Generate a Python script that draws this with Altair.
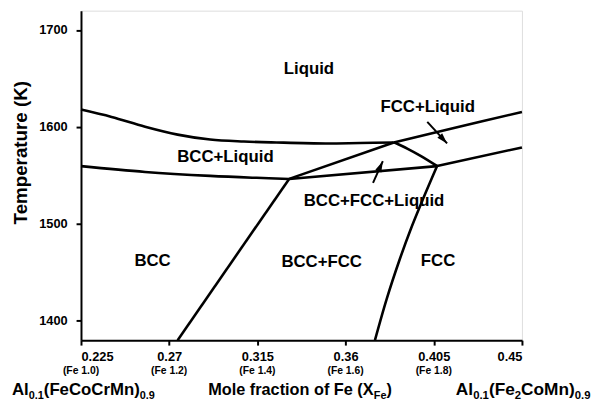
import math
import altair as alt
import pandas as pd

# ---------------- data ----------------
# phase boundary curves: (x = mole fraction Fe, T in K)
liq_bcc_x = [0.225, 0.2406, 0.2577, 0.2743, 0.2909, 0.3081, 0.3247, 0.3498, 0.3674, 0.3846]
liq_bcc_T = [1618, 1610.4, 1600.2, 1592.1, 1587.0, 1585.0, 1584.0, 1583.0, 1583.5, 1584.0]
liq_fcc_x = [0.3846, 0.4153, 0.45]
liq_fcc_T = [1584.0, 1599.0, 1615.5]
sol_bcc_x = [0.225, 0.2577, 0.2909, 0.3146, 0.3312]
sol_bcc_T = [1559.6, 1553.6, 1549.5, 1547.5, 1546.4]
peri_x = [0.3312, 0.4067]
peri_T = [1546.4, 1559.6]
sol_fcc_x = [0.4067, 0.45]
sol_fcc_T = [1559.6, 1578.9]
tri_left_x = [0.3312, 0.3846]
tri_left_T = [1546.4, 1584.0]
tri_right_x = [0.3847, 0.3917, 0.3985, 0.4068]
tri_right_T = [1584.2, 1577.5, 1570.0, 1559.6]
bcc_solvus_x = [0.2743, 0.3312]
bcc_solvus_T = [1380, 1546.4]
fcc_solvus_x = [0.375, 0.3810, 0.3876, 0.3931, 0.3992, 0.4067]
fcc_solvus_T = [1380, 1422.6, 1463.2, 1493.7, 1524.1, 1559.6]

# region labels
region_text = ["Liquid", "BCC+Liquid", "BCC", "BCC+FCC", "FCC", "FCC+Liquid", "BCC+FCC+Liquid"]
region_x = [0.3413, 0.2987, 0.2615, 0.3478, 0.4072, 0.4019, 0.3745]
region_T = [1660.1, 1568.8, 1461.2, 1460.5, 1461.2, 1620.5, 1523.4]

# arrows
arrow_x1 = [0.4017, 0.3740]
arrow_T1 = [1605.3, 1542.4]
arrow_x2 = [0.4118, 0.3790]
arrow_T2 = [1583.0, 1564.7]

# axis ticks
x_ticks = [0.225, 0.27, 0.315, 0.36, 0.405, 0.45]
fe_ticks = [0.225, 0.27, 0.315, 0.36, 0.405]
fe_labels = ["(Fe 1.0)", "(Fe 1.2)", "(Fe 1.4)", "(Fe 1.6)", "(Fe 1.8)"]
y_ticks = [1400, 1500, 1600, 1700]

# ---------------- layout ----------------
W, H = 447, 334
XDOM = [0.225, 0.45]
YDOM = [1380, 1720]
FONT = "Liberation Sans"

xs = alt.Scale(domain=XDOM, nice=False, zero=False)
ys = alt.Scale(domain=YDOM, nice=False, zero=False)

segments = [
    ("liq_bcc", liq_bcc_x, liq_bcc_T), ("liq_fcc", liq_fcc_x, liq_fcc_T),
    ("sol_bcc", sol_bcc_x, sol_bcc_T), ("peri", peri_x, peri_T),
    ("sol_fcc", sol_fcc_x, sol_fcc_T), ("tri_left", tri_left_x, tri_left_T),
    ("tri_right", tri_right_x, tri_right_T), ("bcc_solvus", bcc_solvus_x, bcc_solvus_T),
    ("fcc_solvus", fcc_solvus_x, fcc_solvus_T),
]
rows = []
for name, xx, tt in segments:
    for i, (a, b) in enumerate(zip(xx, tt)):
        rows.append({"seg": name, "i": i, "x": a, "T": b})
curve_df = pd.DataFrame(rows)

lines = alt.Chart(curve_df).mark_line(
    color="black", strokeWidth=2.6, interpolate="catmull-rom"
).encode(
    x=alt.X("x:Q", scale=xs,
            axis=alt.Axis(values=x_ticks, format=".3~f", title=None, grid=False,
                          labelFont=FONT, labelFontWeight="bold", labelFontSize=13,
                          labelColor="black", tickColor="black", tickSize=5, tickWidth=2,
                          domainColor="black", domainWidth=2, labelPadding=6)),
    y=alt.Y("T:Q", scale=ys,
            axis=alt.Axis(values=y_ticks, format="d", title=None, grid=False,
                          labelFont=FONT, labelFontWeight="bold", labelFontSize=13,
                          labelColor="black", tickColor="black", tickSize=5, tickWidth=2,
                          domainColor="black", domainWidth=2, labelPadding=9)),
    detail="seg:N",
    order="i:Q",
)

region_df = pd.DataFrame({"text": region_text, "x": region_x, "T": region_T})
regions = alt.Chart(region_df).mark_text(
    font=FONT, fontWeight="bold", fontSize=17, color="black", align="center", baseline="middle"
).encode(x=alt.X("x:Q", scale=xs), y=alt.Y("T:Q", scale=ys), text="text:N")

# arrows
px_per_x = W / (XDOM[1] - XDOM[0])
px_per_T = H / (YDOM[1] - YDOM[0])
angles = []
for a1, t1, a2, t2 in zip(arrow_x1, arrow_T1, arrow_x2, arrow_T2):
    dx = (a2 - a1) * px_per_x
    dy = -(t2 - t1) * px_per_T
    angles.append(math.degrees(math.atan2(dx, -dy)) % 360)
arrow_df = pd.DataFrame({"x1": arrow_x1, "T1": arrow_T1, "x2": arrow_x2, "T2": arrow_T2, "ang": angles})
shafts = alt.Chart(arrow_df).mark_rule(color="black", strokeWidth=2).encode(
    x=alt.X("x1:Q", scale=xs), y=alt.Y("T1:Q", scale=ys), x2="x2:Q", y2="T2:Q")
heads = alt.Chart(arrow_df).mark_point(
    shape="M0,0L-0.6,2L0.6,2Z", filled=True, color="black", opacity=1, size=121, strokeWidth=0
).encode(x=alt.X("x2:Q", scale=xs), y=alt.Y("T2:Q", scale=ys),
         angle=alt.Angle("ang:Q", scale=None))

# (Fe n) tick sub-labels
fe_df = pd.DataFrame({"x": fe_ticks, "label": fe_labels})
fe_text = alt.Chart(fe_df).mark_text(
    font=FONT, fontWeight="bold", fontSize=10.5, color="black", align="center", baseline="alphabetic"
).encode(x=alt.X("x:Q", scale=xs), y=alt.value(368), text="label:N")

# rich-text helpers (main text + subscripts)
CW = {'A': 722, 'l': 278, '0': 556, '1': 556, '2': 556, '9': 556, '.': 278, '(': 333, ')': 333,
      'F': 611, 'e': 556, 'C': 722, 'o': 611, 'r': 389, 'M': 833, 'n': 611, ' ': 278, 'X': 667,
      'f': 333, 'a': 556, 'c': 556, 't': 333, 'i': 278}


def tw(s, size):
    return sum(CW.get(ch, 556) for ch in s) * size / 1000.0


def rich(pieces, x0, y0):
    out = []
    x = x0
    for text, size, dy in pieces:
        out.append({"text": text, "px": x, "py": y0 + dy, "size": size})
        x += tw(text, size)
    return out


BASE = 390
rich_rows = []
rich_rows += rich([("Al", 17, 0), ("0.1", 11, 4), ("(FeCoCrMn)", 17, 0), ("0.9", 11, 4)], -70, BASE)
rich_rows += rich([("Mole fraction of Fe (X", 16.5, 0), ("Fe", 11, 4), (")", 16.5, 0)], 129, BASE)
rich_rows += rich([("Al", 17.5, 0), ("0.1", 11.5, 4), ("(Fe", 17.5, 0), ("2", 11.5, 4), ("CoMn)", 17.5, 0),
                   ("0.9", 11.5, 4)], 380, BASE)
rich_df = pd.DataFrame(rich_rows)
rich_text = alt.Chart(rich_df).mark_text(
    font=FONT, fontWeight="bold", color="black", align="left", baseline="alphabetic"
).encode(x=alt.X("px:Q", scale=None), y=alt.Y("py:Q", scale=None),
         size=alt.Size("size:Q", scale=None, legend=None), text="text:N")

ytitle = alt.Chart(pd.DataFrame({"t": ["Temperature (K)"]})).mark_text(
    font=FONT, fontWeight="bold", fontSize=19, color="black", angle=270,
    align="center", baseline="middle"
).encode(x=alt.value(-61), y=alt.value(144), text="t:N")

chart = alt.layer(lines, regions, shafts, heads, fe_text, rich_text, ytitle).properties(
    width=W, height=H,
    autosize=alt.AutoSizeParams(type="none"),
    padding={"left": 74, "top": 0, "right": 71, "bottom": 62},
).configure_view(stroke="black", strokeWidth=2).configure(background="white")

chart.save("out.html", embed_options={"renderer": "svg", "actions": False})
